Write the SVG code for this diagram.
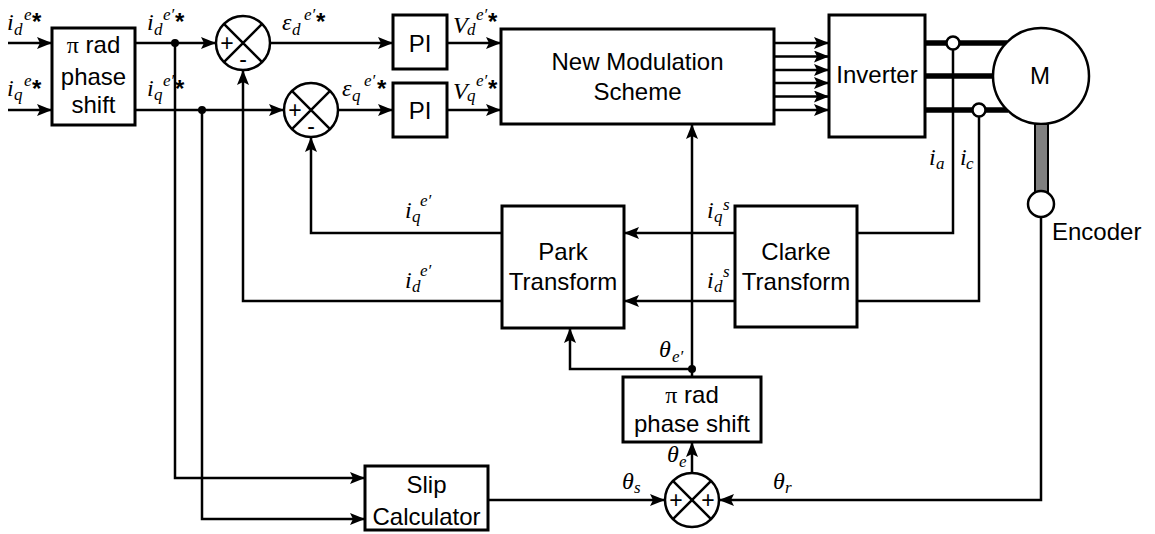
<svg xmlns="http://www.w3.org/2000/svg" width="1155" height="534" viewBox="0 0 1155 534">
<style>
.ln{stroke:#000;stroke-width:2.5;fill:none}
.thk{stroke:#000;stroke-width:5.5;fill:none}
.box{fill:#fff;stroke:#000;stroke-width:3}
.t{font-family:"Liberation Sans",Arial,sans-serif;font-size:24px;text-anchor:middle;fill:#000}
.pi{font-family:"Liberation Serif","Times New Roman",serif}
.m{font-family:"Liberation Serif","Times New Roman",serif;font-style:italic;font-size:24px;fill:#000}
.s{font-size:17px}
.ast{font-family:"Liberation Sans",Arial,sans-serif;font-style:normal;font-weight:bold;font-size:24px}
.sg{font-family:"Liberation Sans",Arial,sans-serif;font-size:23px;text-anchor:middle;fill:#000}
</style>
<defs>
<marker id="ah" markerWidth="15" markerHeight="12" refX="14" refY="6" orient="auto" markerUnits="userSpaceOnUse"><path d="M0,0 L15,6 L0,12 L3,6 z" fill="#000"/></marker>
</defs>

<g id="connectors">
<path class="ln" d="M8,43 H51" marker-end="url(#ah)"/>
<path class="ln" d="M8,110 H51" marker-end="url(#ah)"/>
<path class="ln" d="M135,43 H215" marker-end="url(#ah)"/>
<path class="ln" d="M135,110 H283" marker-end="url(#ah)"/>
<path class="ln" d="M270,43 H392" marker-end="url(#ah)"/>
<path class="ln" d="M338,110 H392" marker-end="url(#ah)"/>
<path class="ln" d="M447,43 H500" marker-end="url(#ah)"/>
<path class="ln" d="M447,110 H500" marker-end="url(#ah)"/>
<path class="ln" d="M774,43 H828" marker-end="url(#ah)"/>
<path class="ln" d="M774,56.5 H828" marker-end="url(#ah)"/>
<path class="ln" d="M774,70 H828" marker-end="url(#ah)"/>
<path class="ln" d="M774,83 H828" marker-end="url(#ah)"/>
<path class="ln" d="M774,96.5 H828" marker-end="url(#ah)"/>
<path class="ln" d="M774,110 H828" marker-end="url(#ah)"/>
<path class="thk" d="M925,43 H1007"/>
<path class="thk" d="M925,76 H994"/>
<path class="thk" d="M925,110 H1008"/>
<path class="ln" d="M953,49 V233 H857"/>
<path class="ln" d="M979,116 V301 H857"/>
<path class="ln" d="M735,233 H625" marker-end="url(#ah)"/>
<path class="ln" d="M735,301 H625" marker-end="url(#ah)"/>
<path class="ln" d="M502,233 H311 V138" marker-end="url(#ah)"/>
<path class="ln" d="M502,301 H243 V71" marker-end="url(#ah)"/>
<path class="ln" d="M692,377 V369"/>
<path class="ln" d="M692,369 V125" marker-end="url(#ah)"/>
<path class="ln" d="M692,369 H570 V329" marker-end="url(#ah)"/>
<path class="ln" d="M692,473 V443" marker-end="url(#ah)"/>
<path class="ln" d="M488,500 H664" marker-end="url(#ah)"/>
<path class="ln" d="M1041,217 V500 H720" marker-end="url(#ah)"/>
<path class="ln" d="M175,43 V478 H364" marker-end="url(#ah)"/>
<path class="ln" d="M202,110 V519 H364" marker-end="url(#ah)"/>
<circle cx="175" cy="43" r="4" fill="#000"/>
<circle cx="202" cy="110" r="4" fill="#000"/>
<circle cx="692" cy="369" r="4" fill="#000"/>
<circle cx="953" cy="43" r="6.5" fill="#fff" stroke="#000" stroke-width="2.5"/>
<circle cx="979" cy="110" r="6.5" fill="#fff" stroke="#000" stroke-width="2.5"/>
</g>

<g id="phase1">
<rect class="box" x="52" y="28" width="83" height="97"/>
<text class="t" x="93.5" y="53"><tspan class="pi">π</tspan> rad</text>
<text class="t" x="93.5" y="85">phase</text>
<text class="t" x="93.5" y="113">shift</text>
</g>

<g id="sum1">
<circle cx="243" cy="43" r="27" fill="#fff" stroke="#000" stroke-width="2.5"/>
<path class="ln" d="M223.9,23.9 L262.1,62.1 M262.1,23.9 L223.9,62.1"/>
<text class="sg" x="227" y="51">+</text>
<text class="sg" x="243" y="67">-</text>
</g>

<g id="sum2">
<circle cx="311" cy="110" r="27" fill="#fff" stroke="#000" stroke-width="2.5"/>
<path class="ln" d="M291.9,90.9 L330.1,129.1 M330.1,90.9 L291.9,129.1"/>
<text class="sg" x="295" y="118">+</text>
<text class="sg" x="311" y="134">-</text>
</g>

<g id="pi1">
<rect class="box" x="393" y="15" width="54" height="54"/>
<text class="t" x="420" y="52">PI</text>
</g>
<g id="pi2">
<rect class="box" x="393" y="83" width="54" height="54"/>
<text class="t" x="420" y="119">PI</text>
</g>

<g id="nms">
<rect class="box" x="501" y="29" width="273" height="95"/>
<text class="t" x="637.5" y="70">New Modulation</text>
<text class="t" x="637.5" y="100">Scheme</text>
</g>

<g id="inverter">
<rect class="box" x="829" y="15" width="96" height="122"/>
<text class="t" x="877" y="83">Inverter</text>
</g>

<g id="motor">
<circle cx="1041" cy="76" r="48" fill="#fff" stroke="#000" stroke-width="2.5"/>
<text class="t" x="1040" y="84">M</text>
</g>

<g id="encoder">
<rect x="1035" y="124" width="13" height="68" fill="#808080" stroke="#000" stroke-width="2"/>
<circle cx="1041" cy="204" r="13" fill="#fff" stroke="#000" stroke-width="2.5"/>
<text class="t" x="1052" y="240" style="text-anchor:start">Encoder</text>
</g>

<g id="park">
<rect class="box" x="502" y="206" width="122" height="122"/>
<text class="t" x="563" y="260">Park</text>
<text class="t" x="563" y="290">Transform</text>
</g>

<g id="clarke">
<rect class="box" x="735" y="206" width="122" height="121"/>
<text class="t" x="796" y="260">Clarke</text>
<text class="t" x="796" y="290">Transform</text>
</g>

<g id="phase2">
<rect class="box" x="623" y="377" width="138" height="65"/>
<text class="t" x="692" y="403"><tspan class="pi">π</tspan> rad</text>
<text class="t" x="692" y="432">phase shift</text>
</g>

<g id="sum3">
<circle cx="692" cy="500" r="27" fill="#fff" stroke="#000" stroke-width="2.5"/>
<path class="ln" d="M672.9,480.9 L711.1,519.1 M711.1,480.9 L672.9,519.1"/>
<text class="sg" x="676" y="508">+</text>
<text class="sg" x="708" y="508">+</text>
</g>

<g id="slip">
<rect class="box" x="365" y="466" width="123" height="64"/>
<text class="t" x="426.5" y="493">Slip</text>
<text class="t" x="426.5" y="525">Calculator</text>
</g>

<g id="labels">
<text class="m"><tspan x="7" y="30">i</tspan><tspan class="s" x="14" y="35">d</tspan><tspan class="s" x="24" y="20">e</tspan><tspan class="ast" x="32" y="30">*</tspan></text>
<text class="m"><tspan x="7" y="96">i</tspan><tspan class="s" x="14" y="100">q</tspan><tspan class="s" x="24" y="86">e</tspan><tspan class="ast" x="32" y="97">*</tspan></text>
<text class="m"><tspan x="147" y="30">i</tspan><tspan class="s" x="154" y="35">d</tspan><tspan class="s" x="163" y="20">e′</tspan><tspan class="ast" x="175" y="30">*</tspan></text>
<text class="m"><tspan x="147" y="96">i</tspan><tspan class="s" x="154" y="100">q</tspan><tspan class="s" x="163" y="86">e′</tspan><tspan class="ast" x="175" y="97">*</tspan></text>
<text class="m"><tspan x="282" y="30">ε</tspan><tspan class="s" x="292" y="35">d</tspan><tspan class="s" x="304" y="20">e′</tspan><tspan class="ast" x="316" y="30">*</tspan></text>
<text class="m"><tspan x="342" y="96">ε</tspan><tspan class="s" x="352" y="101">q</tspan><tspan class="s" x="364" y="86">e′</tspan><tspan class="ast" x="377" y="97">*</tspan></text>
<text class="m"><tspan x="453" y="33">V</tspan><tspan class="s" x="467" y="35">d</tspan><tspan class="s" x="476" y="20">e′</tspan><tspan class="ast" x="488" y="30">*</tspan></text>
<text class="m"><tspan x="453" y="99">V</tspan><tspan class="s" x="467" y="101">q</tspan><tspan class="s" x="476" y="86">e′</tspan><tspan class="ast" x="488" y="97">*</tspan></text>
<text class="m"><tspan x="405" y="218">i</tspan><tspan class="s" x="412" y="222">q</tspan><tspan class="s" x="420" y="206">e′</tspan></text>
<text class="m"><tspan x="405" y="288">i</tspan><tspan class="s" x="412" y="292">d</tspan><tspan class="s" x="420" y="276">e′</tspan></text>
<text class="m"><tspan x="707" y="218">i</tspan><tspan class="s" x="714" y="222">q</tspan><tspan class="s" x="723" y="210">s</tspan></text>
<text class="m"><tspan x="707" y="288">i</tspan><tspan class="s" x="714" y="292">d</tspan><tspan class="s" x="723" y="277">s</tspan></text>
<text class="m"><tspan x="659" y="357">θ</tspan><tspan class="s" x="672" y="362">e′</tspan></text>
<text class="m"><tspan x="667" y="462">θ</tspan><tspan class="s" x="679" y="467">e</tspan></text>
<text class="m"><tspan x="622" y="489">θ</tspan><tspan class="s" x="634" y="493">s</tspan></text>
<text class="m"><tspan x="773" y="489">θ</tspan><tspan class="s" x="785" y="493">r</tspan></text>
<text class="m"><tspan x="929" y="165">i</tspan><tspan class="s" x="936" y="169">a</tspan></text>
<text class="m"><tspan x="960" y="165">i</tspan><tspan class="s" x="966" y="169">c</tspan></text>
</g>
</svg>
